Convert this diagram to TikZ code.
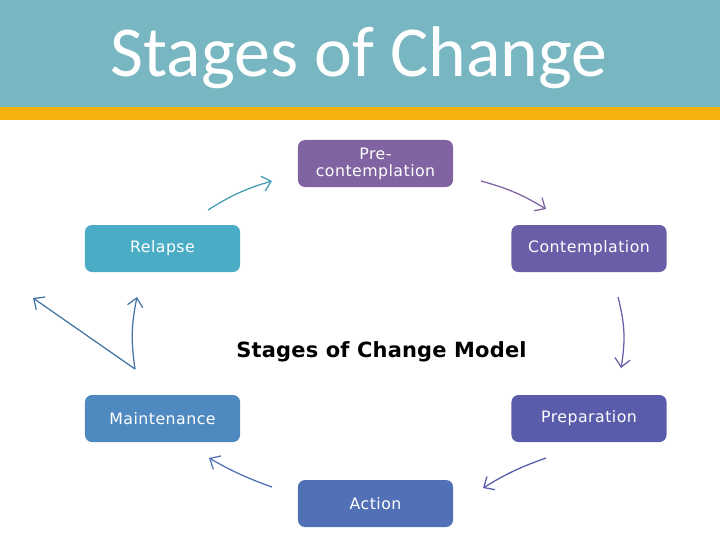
\documentclass[tikz,border=0pt]{standalone}
\usepackage{fontspec}
\usepackage{tikz}
\usetikzlibrary{
  positioning,
  arrows.meta
}
\newfontfamily\titlefont{Carlito}
\newfontfamily\stagefont[LetterSpace=3]{DejaVu Sans}
\newfontfamily\modelfont[LetterSpace=1]{DejaVu Sans}
\definecolor{bandteal}{RGB}{120,183,193}
\definecolor{bandgold}{RGB}{245,178,14}
\definecolor{precol}{RGB}{128,100,162}
\definecolor{concol}{RGB}{107,93,168}
\definecolor{prepcol}{RGB}{88,92,170}
\definecolor{actcol}{RGB}{81,112,182}
\definecolor{maincol}{RGB}{78,138,192}
\definecolor{relcol}{RGB}{75,172,198}

\begin{document}
\begin{tikzpicture}[x=0.025cm,y=-0.025cm,>={Straight Barb[length=6pt,width=11pt]},
    stage/.style={rounded corners=5pt,minimum width=3.875cm,minimum height=1.175cm,
      text=white,font=\stagefont\fontsize{11.2}{12.2}\selectfont,align=center,inner sep=1pt},
    cycarrow/.style={->,line width=0.9pt}]
            \useasboundingbox (0,0) rectangle (720,540);
            \fill[bandteal] (0,0) rectangle (720,107);
            \fill[bandgold] (0,107) rectangle (720,120);
            \node[text=white,font=\titlefont\fontsize{51}{56}\selectfont] (title) at (359,58) {Stages of Change};

            \node[stage,fill=precol] (pre) at (375.5,163.5) {Pre-\\contemplation};
            \node[stage,fill=concol] (contemp) at (589,248.5) {Contemplation};
            \node[stage,fill=prepcol] (prep) at (589,418.5) {Preparation};
            \node[stage,fill=actcol] (action) at (375.5,503.5) {Action};
            \node[stage,fill=maincol] (maint) at (162.5,418.5) {Maintenance};
            \node[stage,fill=relcol] (relapse) at (162.5,248.5) {Relapse};
            \node[font=\modelfont\bfseries\fontsize{14.9}{16}\selectfont] (model) at (381.5,352) {Stages of Change Model};

            \coordinate (r1) at (208,210); \coordinate (r2) at (272,181);
            \coordinate (p1) at (481,181); \coordinate (p2) at (546,209);
            \coordinate (c1) at (618,297); \coordinate (c2) at (621,368);
            \coordinate (q1) at (546,458); \coordinate (q2) at (483,488);
            \coordinate (a1) at (272,487); \coordinate (a2) at (209,458);
            \coordinate (m1) at (135,369); \coordinate (m2) at (137,297);
            \coordinate (x2) at (33,298);

            \draw[cycarrow,color=relcol!90!black] (r1) to[bend left=8] (r2);
            \draw[cycarrow,color=precol] (p1) to[bend left=8] (p2);
            \draw[cycarrow,color=concol] (c1) to[bend left=12] (c2);
            \draw[cycarrow,color=prepcol] (q1) to[bend right=6] (q2);
            \draw[cycarrow,color=actcol] (a1) to[bend left=5] (a2);
            \draw[cycarrow,color=maincol!85!black] (m1) to[bend left=10] (m2);
            \draw[cycarrow,color=maincol!85!black] (m1) -- (x2);
        \end{tikzpicture}
\end{document}
